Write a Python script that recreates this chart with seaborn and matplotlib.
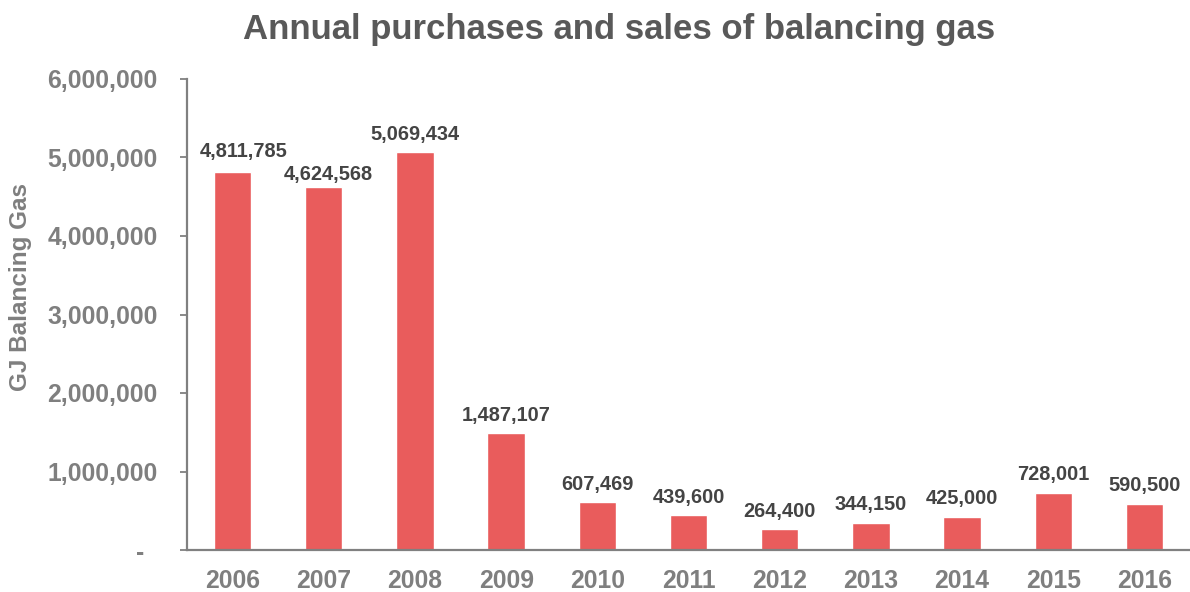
import matplotlib
matplotlib.use("Agg")
import matplotlib.pyplot as plt
import matplotlib.ticker as mticker
import seaborn as sns
import pandas as pd

years = ["2006", "2007", "2008", "2009", "2010", "2011",
         "2012", "2013", "2014", "2015", "2016"]
gj_values = [4811785, 4624568, 5069434, 1487107, 607469, 439600,
             264400, 344150, 425000, 728001, 590500]
y_ticks = [0, 1000000, 2000000, 3000000, 4000000, 5000000, 6000000]

df = pd.DataFrame({"year": years, "gj": gj_values})

sns.set_theme(style="white")
plt.rcParams["font.family"] = ["Liberation Sans", "DejaVu Sans"]

bar_color = "#E95C5C"
axis_grey = "#808080"
label_grey = "#7F7F7F"
value_dark = "#444444"

fig = plt.figure(figsize=(11.9, 5.92), dpi=100)
ax = fig.add_axes([187 / 1190, 42 / 592, (1190 - 187) / 1190, (550 - 79) / 592])

sns.barplot(data=df, x="year", y="gj", color=bar_color, width=0.41,
            saturation=1, ax=ax)

ax.set_ylim(0, 6000000)
ax.set_xlim(-0.5, len(years) - 0.5)
ax.set_yticks(y_ticks)


def fmt(v, pos):
    if v == 0:
        return "-  "
    return f"{int(v):,}"


ax.yaxis.set_major_formatter(mticker.FuncFormatter(fmt))

for spine in ["top", "right"]:
    ax.spines[spine].set_visible(False)
for spine in ["left", "bottom"]:
    ax.spines[spine].set_color(axis_grey)
    ax.spines[spine].set_linewidth(1.6)

ax.tick_params(axis="y", which="major", left=True, length=5, width=1.3,
               color=axis_grey, pad=16, labelsize=17.8, labelcolor=label_grey)
ax.tick_params(axis="x", bottom=False, pad=8, labelsize=17.8,
               labelcolor=label_grey)
for lbl in ax.get_xticklabels() + ax.get_yticklabels():
    lbl.set_fontweight("bold")

ax.set_xlabel("")
ax.set_ylabel("GJ Balancing Gas", fontsize=17.5, fontweight="bold",
              color=label_grey, labelpad=0)
ax.yaxis.set_label_coords((32 - 187) / 1003, (550 - 287) / 471)

# small nudges (points) so the crowded labels of the first years stay clear
label_nudge = {0: (8, 2), 1: (3, -4)}

for i, v in enumerate(gj_values):
    dx, dy = label_nudge.get(i, (0, 0))
    ax.annotate(f"{v:,}", (i, v), xytext=(dx, 9 + dy),
                textcoords="offset points", ha="center", va="baseline",
                fontsize=14.4, fontweight="bold", color=value_dark)

fig.suptitle("Annual purchases and sales of balancing gas", x=0.52, y=0.978,
             fontsize=25, fontweight="bold", color="#595959")

fig.savefig("out.png", dpi=100)
